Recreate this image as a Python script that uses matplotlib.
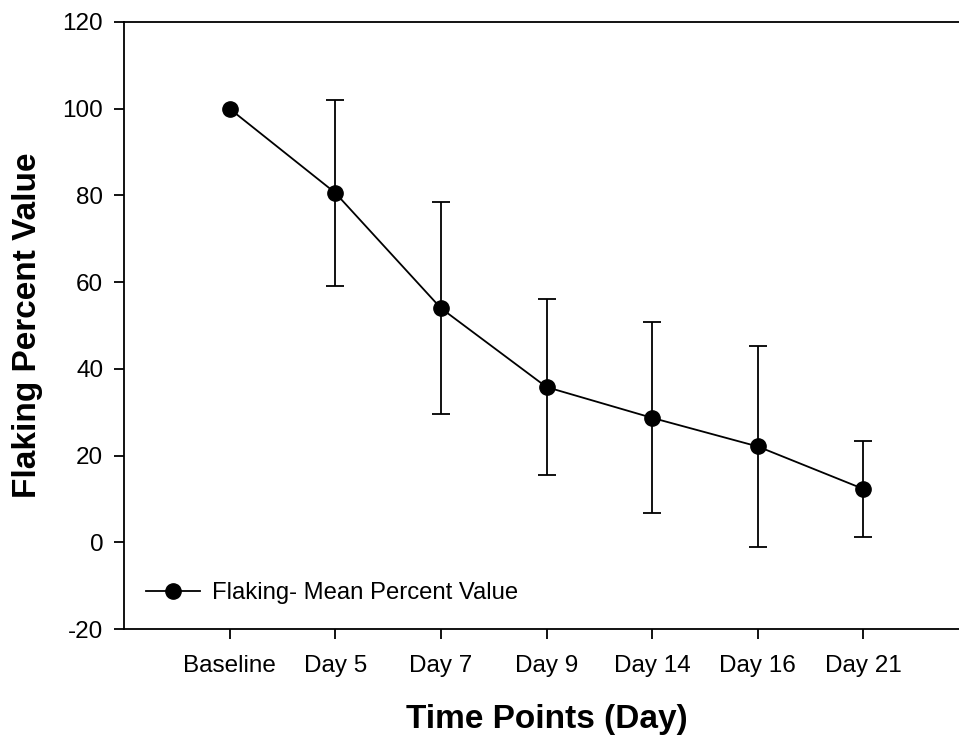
import numpy as np
import matplotlib
matplotlib.use("Agg")
import matplotlib.pyplot as plt

plt.rcParams['font.family'] = ['Liberation Sans', 'DejaVu Sans']
plt.rcParams['axes.unicode_minus'] = False

# Data
time_points = ["Baseline", "Day 5", "Day 7", "Day 9", "Day 14", "Day 16", "Day 21"]
mean_values = [100.0, 80.6, 54.0, 35.8, 28.7, 22.1, 12.3]
errors = [0.0, 21.5, 24.5, 20.2, 22.0, 23.1, 11.1]

fig = plt.figure(figsize=(9.59, 7.36), dpi=100)
# axes stretched past the right edge, like the original export
ax = fig.add_axes([124 / 959, 107 / 736, 845 / 959, 607 / 736])

x = np.arange(len(time_points))
err = [e if e > 0 else np.nan for e in errors]
ax.errorbar(x, mean_values, yerr=err, fmt="none", ecolor="black",
            elinewidth=1.3, capsize=6.5, capthick=1.3)
ax.plot(x, mean_values, color="black", linewidth=1.3, marker="o",
        markersize=11, label="Flaking- Mean Percent Value")

ax.set_xlim(-1, 7)
ax.set_ylim(-20, 120)
ax.set_yticks(np.arange(-20, 121, 20))
ax.set_xticks(x)
ax.set_xticklabels(time_points)

ax.spines["right"].set_visible(False)
for s in ["left", "bottom", "top"]:
    ax.spines[s].set_linewidth(1.3)
ax.tick_params(axis="both", direction="out", length=7, width=1.3, labelsize=17.5)
ax.tick_params(axis="x", pad=12)
ax.tick_params(axis="y", pad=8)

ax.set_xlabel("Time Points (Day)", fontsize=24, fontweight="bold", labelpad=19)
ax.set_ylabel("Flaking Percent Value", fontsize=24, fontweight="bold", labelpad=14)

ax.legend(loc="lower left", bbox_to_anchor=(0.0, 0.005), frameon=False,
          fontsize=17.2, handlelength=2.3, handletextpad=0.5)

fig.savefig("out.png", dpi=100)
